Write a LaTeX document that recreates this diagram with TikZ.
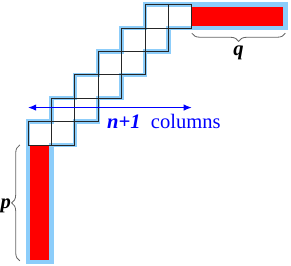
\documentclass[tikz,border=0pt]{standalone}
\usepackage{fontspec}
\setmainfont{Liberation Serif}
\usetikzlibrary{decorations.pathreplacing,arrows.meta}
\definecolor{rimblue}{RGB}{140,205,250}

\begin{document}
\begin{tikzpicture}[
  x=0.5cm, y=0.5cm,
  every node/.style={font=\fontsize{12.5}{15}\selectfont, inner sep=1pt},
  cell/.style={draw=black!85, line width=0.5pt},
  rim/.style={draw=rimblue, line width=2.6pt, line join=miter},
  curly/.style={draw=black!60, line width=0.5pt, decorate, decoration={brace, amplitude=5pt}},
  span/.style={draw=blue, line width=0.7pt, {Latex[length=5pt,width=4pt]}-{Latex[length=5pt,width=4pt]}}
]
  \useasboundingbox (-1.197,-0.171) rectangle (11.24,11.197);
  % red bars
  \fill[red] (0,0) rectangle (1,5);
  \fill[red] (7,10) rectangle (11,11);
  % outline of the staircase
  \draw[rim] (0,0) -- (1,0) -- (1,5) -- (2,5) -- (2,6) -- (3,6) -- (3,7) -- (4,7) -- (4,8)
    -- (5,8) -- (5,9) -- (6,9) -- (6,10) -- (11,10) -- (11,11) -- (5,11) -- (5,10) -- (4,10)
    -- (4,9) -- (3,9) -- (3,8) -- (2,8) -- (2,7) -- (1,7) -- (1,6) -- (0,6) -- cycle;
  % cells, two per row
  \foreach \i in {0,...,5} {
    \draw[cell] (\i,5+\i) rectangle +(1,1);
    \draw[cell] (\i+1,5+\i) rectangle +(1,1);
  }
  % column span
  \coordinate (colL) at (0,6.6);
  \coordinate (colR) at (7,6.6);
  \draw[span] (colL) -- (colR);
  \node[text=blue, anchor=west] (cols) at (3.3,6.0) {\textbf{\textit{n+1}}\enspace columns};
  % braces
  \coordinate (qR) at (11,9.78);
  \coordinate (qL) at (7,9.78);
  \draw[curly] (qR) -- (qL);
  \node (qlabel) at (9,8.95) {\textbf{\textit{q}}};
  \coordinate (pB) at (-0.35,0.05);
  \coordinate (pT) at (-0.35,5);
  \draw[curly] (pB) -- (pT);
  \node (plabel) at (-0.95,2.4) {\textbf{\textit{p}}};
\end{tikzpicture}
\end{document}
